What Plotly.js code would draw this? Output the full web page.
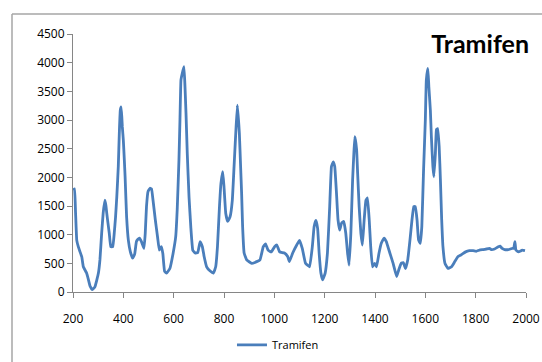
<!DOCTYPE html>
<html>
<head>
<meta charset="utf-8">
<script src="https://cdn.plot.ly/plotly-3.0.1.min.js"></script>
<style>
  html, body { margin: 0; padding: 0; background: #ffffff; }
  #chart { width: 542px; height: 362px; }
</style>
</head>
<body>
<div id="chart"></div>
<script>
const seriesName = "Tramifen";
const wavenumber = [200,206,210,215,221,228,235,241,248,254,261,268,277,287,294,301,307,314,320,327,331,334,339,344,350,358,364,369,374,380,384,388,391,394,396,400,404,407,413,420,428,437,445,452,458,464,472,482,487,492,498,506,512,518,527,536,543,551,557,564,572,585,598,608,614,621,625,629,634,641,645,649,654,661,668,676,685,696,705,714,721,731,744,758,767,774,782,788,795,800,807,815,824,833,840,846,853,861,866,870,874,880,890,910,930,943,956,965,975,988,1001,1010,1021,1040,1053,1060,1073,1089,1100,1111,1124,1140,1151,1158,1165,1172,1178,1185,1192,1202,1211,1220,1227,1234,1240,1247,1253,1260,1267,1276,1284,1291,1297,1304,1311,1316,1320,1327,1331,1337,1344,1350,1357,1364,1370,1377,1383,1390,1399,1406,1416,1425,1436,1445,1459,1472,1486,1494,1504,1513,1521,1530,1539,1547,1554,1560,1567,1573,1580,1586,1593,1600,1604,1610,1614,1620,1624,1630,1634,1640,1644,1649,1655,1660,1665,1670,1678,1690,1704,1717,1730,1743,1760,1775,1790,1802,1815,1830,1843,1855,1862,1875,1890,1897,1905,1915,1930,1945,1951,1956,1960,1970,1985,1996];
const intensity = [1780,1800,1400,900,790,700,610,440,380,330,220,100,40,90,200,330,560,1030,1380,1600,1500,1380,1200,1030,790,790,1030,1300,1660,2190,2770,3170,3230,3050,2880,2650,2300,2010,1310,900,700,590,660,880,920,940,880,760,1020,1490,1750,1810,1800,1600,1260,960,730,790,670,360,330,410,680,960,1430,2300,3000,3700,3810,3930,3580,3120,2420,1660,1140,730,680,690,880,790,620,440,370,330,440,790,1490,1900,2100,1840,1370,1230,1310,1600,2190,2710,3260,2770,2190,1720,1140,680,560,500,530,560,790,840,730,700,790,820,700,680,620,530,680,820,900,760,500,440,790,1140,1250,1110,680,330,210,330,680,1490,2190,2270,2190,1720,1260,1080,1200,1230,1020,680,470,1020,1950,2420,2710,2480,2070,1490,1020,820,1260,1600,1640,1260,790,440,500,440,680,850,940,880,680,500,270,380,500,510,410,560,910,1260,1490,1490,1260,910,850,1140,2130,3000,3700,3900,3580,3170,2710,2190,2010,2420,2830,2850,2530,1950,1260,790,500,410,440,530,620,650,700,720,720,710,730,740,750,760,740,750,790,800,760,740,740,760,760,880,730,700,730,720];
const xTickVals = [200,400,600,800,1000,1200,1400,1600,1800,2000];
const yTickVals = [0,500,1000,1500,2000,2500,3000,3500,4000,4500];

const trace = {
  x: wavenumber,
  y: intensity,
  type: "scatter",
  mode: "lines",
  name: seriesName,
  line: { color: "#4a7ebb", width: 2.8, shape: "spline", smoothing: 0.3 }
};

const axisFont = { family: "Open Sans, Lato, sans-serif", size: 12, color: "#000000" };

const layout = {
  width: 542,
  height: 362,
  margin: { l: 73, r: 16, t: 34, b: 70, pad: 0, autoexpand: false },
  paper_bgcolor: "#ffffff",
  plot_bgcolor: "#ffffff",
  title: {
    text: "<b>Tramifen</b>",
    font: { family: "Lato, Open Sans, sans-serif", size: 25, color: "#000000" },
    x: 529 / 542, xanchor: "right", xref: "container",
    y: 1 - 44 / 362, yanchor: "middle", yref: "container"
  },
  xaxis: {
    range: [200, 2000],
    tickvals: xTickVals,
    ticktext: xTickVals.map(String),
    ticks: "outside", ticklen: 5, tickcolor: "#868686", tickwidth: 1,
    ticklabelstandoff: 11,
    showline: true, linecolor: "#868686", linewidth: 1,
    showgrid: false, zeroline: false,
    tickfont: axisFont
  },
  yaxis: {
    range: [0, 4500],
    tickvals: yTickVals,
    ticktext: yTickVals.map(String),
    ticks: "outside", ticklen: 5, tickcolor: "#868686", tickwidth: 1,
    showline: true, linecolor: "#868686", linewidth: 1,
    showgrid: false, zeroline: false,
    tickfont: axisFont
  },
  showlegend: true,
  legend: {
    orientation: "h",
    x: 0.4525, xanchor: "center",
    y: -0.205, yanchor: "middle",
    font: { family: "Open Sans, Lato, sans-serif", size: 11, color: "#000000" },
    bgcolor: "rgba(0,0,0,0)"
  },
  shapes: [
    { type: "line", xref: "paper", yref: "paper",
      x0: (12 - 73) / 453, x1: (12 - 73) / 453, y0: (292 - 14) / 258, y1: (292 - 370) / 258,
      line: { color: "#a6a6a6", width: 1.5 } },
    { type: "line", xref: "paper", yref: "paper",
      x0: (12 - 73) / 453, x1: (560 - 73) / 453, y0: (292 - 14) / 258, y1: (292 - 14) / 258,
      line: { color: "#a6a6a6", width: 1.5 } }
  ]
};

Plotly.newPlot("chart", [trace], layout, { displayModeBar: false, staticPlot: true });
</script>
</body>
</html>
